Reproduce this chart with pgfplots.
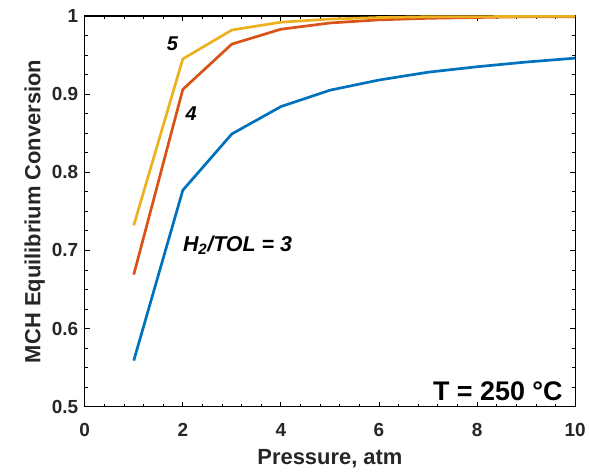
\documentclass[border=0pt]{standalone}
\usepackage{fontspec}
\setmainfont{Liberation Sans}
\usepackage{pgfplots}
\pgfplotsset{compat=1.18}

\definecolor{mblue}{rgb}{0,0.447,0.741}
\definecolor{morange}{rgb}{0.85,0.325,0.098}
\definecolor{myellow}{rgb}{0.929,0.694,0.125}

\begin{document}
\begin{tikzpicture}
\begin{axis}[
    scale only axis,
    width=492pt, height=392pt,
    xmin=0, xmax=10, ymin=0.5, ymax=1,
    xtick={0,2,...,10}, ytick={0.5,0.6,...,1.0},
    yticklabels={0.5,0.6,0.7,0.8,0.9,1},
    minor x tick num=4, minor y tick num=3,
    tick align=inside,
    major tick length=5pt, minor tick length=3pt,
    tick style={black, line width=0.8pt},
    axis line style={black, line width=1.2pt},
    /pgf/number format/assume math mode=true,
    ticklabel style={font=\fontsize{19}{19}\selectfont\bfseries, text=black!85},
    xticklabel style={yshift=-13pt},
    yticklabel style={xshift=-3pt},
    xlabel={Pressure, atm},
    ylabel={MCH Equilibrium Conversion},
    label style={font=\fontsize{22}{22}\selectfont\bfseries, text=black!85},
    xlabel style={yshift=-6pt},
    ylabel style={yshift=0pt},
    every axis plot/.append style={line width=2.7pt, no marks},
]
\addplot[mblue] coordinates {
    (1,0.559) (2,0.777) (3,0.849) (4,0.884) (5,0.905)
    (6,0.918) (7,0.928) (8,0.935) (9,0.941) (10,0.946)
};
\addplot[morange] coordinates {
    (1,0.669) (2,0.906) (3,0.964) (4,0.983) (5,0.991)
    (6,0.995) (7,0.997) (8,0.998) (9,0.999) (10,0.999)
};
\addplot[myellow] coordinates {
    (1,0.732) (2,0.945) (3,0.982) (4,0.992) (5,0.996)
    (6,0.998) (7,0.999) (8,0.999) (9,0.9995) (10,0.9997)
};
\node[font=\fontsize{20}{20}\selectfont\bfseries\itshape] at (axis cs:1.79,0.964) {5};
\node[font=\fontsize{20}{20}\selectfont\bfseries\itshape] at (axis cs:2.17,0.875) {4};
\node[font=\fontsize{21.5}{21.5}\selectfont\bfseries\itshape, anchor=west, inner sep=0pt] at (axis cs:2.0,0.707) {H\textsubscript{2}/TOL = 3};
\node[font=\fontsize{27}{27}\selectfont\bfseries, anchor=south east, inner sep=0pt] at (rel axis cs:0.975,0.015) {T = 250 °C};
\end{axis}
\path ([shift={(-85pt,-61pt)}]current axis.south west) rectangle ([shift={(12pt,16pt)}]current axis.north east);
\end{tikzpicture}
\end{document}
